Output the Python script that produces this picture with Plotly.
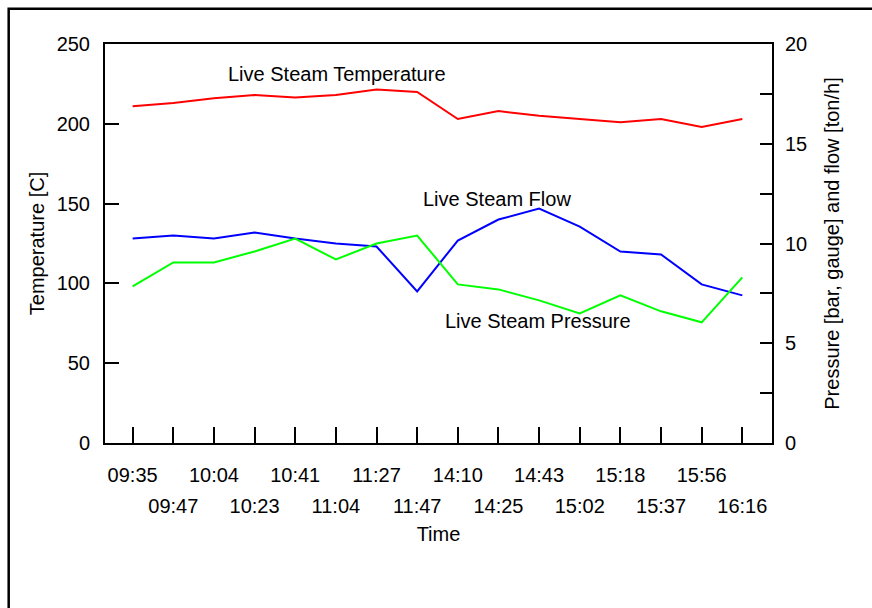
import numpy as np
import plotly.graph_objects as go

# Sample times (categorical x positions)
times = ["09:35", "09:47", "10:04", "10:23", "10:41", "11:04", "11:27", "11:47",
         "14:10", "14:25", "14:43", "15:02", "15:18", "15:37", "15:56", "16:16"]

# Live steam temperature [C] (left axis)
temperature = [211, 213, 216, 218, 216.5, 218, 221.5, 220,
               203, 208, 205, 203, 201, 203, 198, 203]

# Live steam flow [ton/h] (right axis)
flow = [10.25, 10.4, 10.25, 10.55, 10.25, 10.0, 9.85, 7.6,
        10.15, 11.2, 11.75, 10.85, 9.6, 9.45, 7.95, 7.4]

# Live steam pressure [bar, gauge] (right axis)
pressure = [7.85, 9.05, 9.05, 9.6, 10.25, 9.2, 10.0, 10.4,
            7.95, 7.7, 7.15, 6.5, 7.4, 6.6, 6.05, 8.3]

left_ticks = [0, 50, 100, 150, 200, 250]
right_ticks = [0, 5, 10, 15, 20]

pos = np.arange(len(times))
odd = pos[1::2]

FONT = "Liberation Sans, Arial, sans-serif"
FS = 20

fig = go.Figure()
fig.add_trace(go.Scatter(x=pos, y=temperature, mode="lines",
                         line=dict(color="#ff0000", width=2),
                         xaxis="x", yaxis="y"))
# flow and pressure share the right-hand scale; their x axis carries the
# second (staggered) row of time labels
fig.add_trace(go.Scatter(x=pos, y=flow, mode="lines",
                         line=dict(color="#0000ff", width=2),
                         xaxis="x2", yaxis="y2"))
fig.add_trace(go.Scatter(x=pos, y=pressure, mode="lines",
                         line=dict(color="#00ff00", width=2),
                         xaxis="x2", yaxis="y2"))

xr = [-0.68, 15.73]

fig.update_layout(
    width=872, height=608,
    margin=dict(l=105, r=100, t=44, b=165),
    paper_bgcolor="white", plot_bgcolor="white",
    showlegend=False,
    font=dict(family=FONT, size=FS, color="black"),
    xaxis=dict(
        range=xr, showgrid=False, zeroline=False,
        showline=True, linecolor="black", linewidth=2, mirror=True,
        ticks="inside", ticklen=16, tickwidth=2, tickcolor="black",
        tickvals=pos, ticktext=[t if i % 2 == 0 else "" for i, t in enumerate(times)],
        ticklabelstandoff=13,
    ),
    xaxis2=dict(
        range=xr, overlaying="x", anchor="y2", side="bottom",
        showgrid=False, zeroline=False, showline=False, ticks="",
        tickvals=odd, ticktext=[times[i] for i in odd],
        ticklabelstandoff=49,
        title=dict(text="Time", standoff=10, font=dict(size=FS)),
    ),
    yaxis=dict(
        range=[0, 250], showgrid=False, zeroline=False,
        showline=True, linecolor="black", linewidth=2,
        ticks="inside", ticklen=14, tickwidth=2, tickcolor="black",
        tickvals=left_ticks, ticklabelstandoff=9,
        title=dict(text="Temperature [C]", standoff=7, font=dict(size=FS)),
    ),
    yaxis2=dict(
        range=[0, 20], overlaying="y", side="right", anchor="x2",
        showgrid=False, zeroline=False,
        showline=True, linecolor="black", linewidth=2,
        ticks="inside", ticklen=12, tickwidth=2, tickcolor="black",
        tickvals=right_ticks, ticklabelstandoff=7,
        minor=dict(dtick=2.5, ticks="inside", ticklen=12, tickwidth=2, tickcolor="black"),
        title=dict(text="Pressure [bar, gauge] and flow [ton/h]", standoff=19,
                   font=dict(size=FS)),
    ),
    shapes=[dict(type="rect", xref="paper", yref="paper",
                 x0=-0.1444, x1=1.6, y0=-1.0, y1=1.0885,
                 line=dict(color="black", width=2.5), layer="above")],
    annotations=[
        dict(x=5.03, y=231, xref="x", yref="y", text="Live Steam Temperature",
             showarrow=False, font=dict(size=FS)),
        dict(x=8.97, y=12.23, xref="x", yref="y2", text="Live Steam Flow",
             showarrow=False, font=dict(size=FS)),
        dict(x=9.98, y=6.1, xref="x", yref="y2", text="Live Steam Pressure",
             showarrow=False, font=dict(size=FS)),
    ],
)

fig.write_html("out.html")
